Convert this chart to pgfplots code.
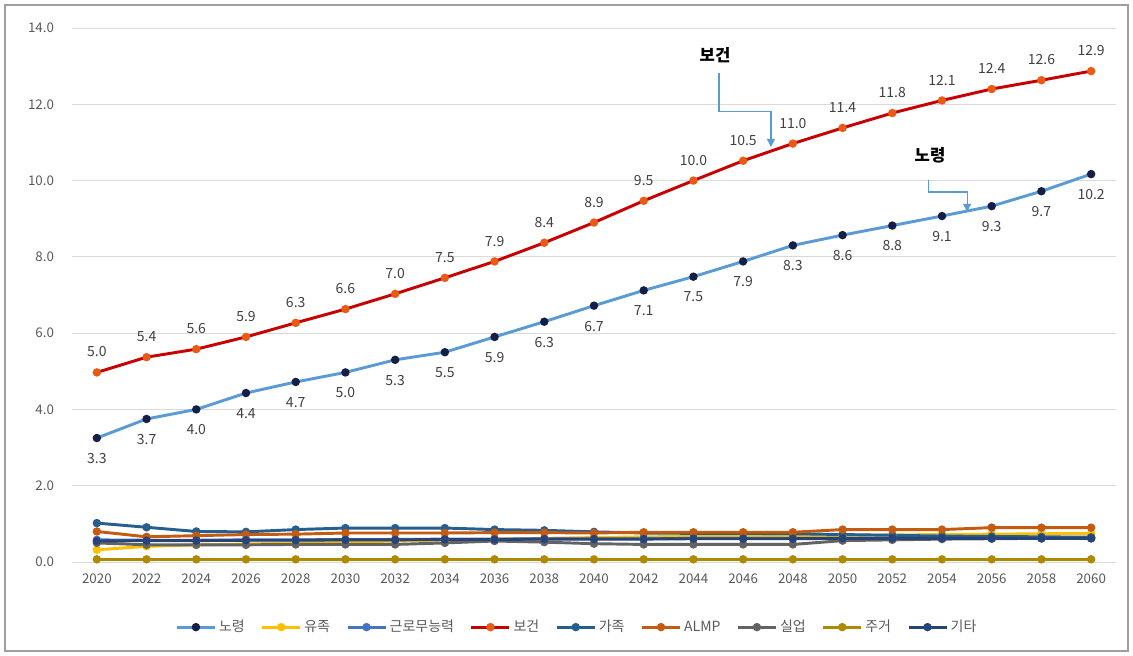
\documentclass[border=0pt]{standalone}
\usepackage{fontspec}
\setmainfont{Noto Sans CJK KR}
\usepackage{pgfplots}
\usepackage{pgfplotstable}
\pgfplotsset{compat=1.18}
\usetikzlibrary{arrows.meta}

\definecolor{cNoryeong}{RGB}{91,155,213}
\definecolor{cNoryeongM}{RGB}{20,30,70}
\definecolor{cYujok}{RGB}{255,192,0}
\definecolor{cGeunro}{RGB}{68,114,196}
\definecolor{cBogeon}{RGB}{200,0,0}
\definecolor{cBogeonM}{RGB}{235,90,20}
\definecolor{cGajok}{RGB}{37,94,145}
\definecolor{cALMP}{RGB}{197,90,17}
\definecolor{cSileop}{RGB}{99,99,99}
\definecolor{cJugeo}{RGB}{175,138,0}
\definecolor{cGita}{RGB}{38,68,120}
\definecolor{cText}{RGB}{64,64,64}
\definecolor{cTick}{RGB}{89,89,89}

\pgfplotstableread{
year noryeong nlab yujok geunro bogeon blab gajok almp sileop jugeo gita
2020 3.25 3.3 0.32 0.58 4.97 5.0 1.02 0.80 0.50 0.07 0.55
2022 3.75 3.7 0.41 0.57 5.37 5.4 0.91 0.66 0.45 0.07 0.56
2024 4.00 4.0 0.45 0.57 5.58 5.6 0.80 0.69 0.45 0.07 0.56
2026 4.43 4.4 0.47 0.58 5.90 5.9 0.79 0.72 0.45 0.07 0.57
2028 4.72 4.7 0.50 0.58 6.27 6.3 0.85 0.73 0.46 0.07 0.57
2030 4.97 5.0 0.52 0.59 6.63 6.6 0.89 0.76 0.46 0.07 0.58
2032 5.30 5.3 0.55 0.59 7.03 7.0 0.89 0.76 0.46 0.07 0.58
2034 5.50 5.5 0.58 0.60 7.45 7.5 0.89 0.76 0.50 0.07 0.59
2036 5.90 5.9 0.60 0.60 7.88 7.9 0.85 0.77 0.55 0.07 0.59
2038 6.30 6.3 0.62 0.61 8.37 8.4 0.83 0.77 0.52 0.07 0.60
2040 6.72 6.7 0.64 0.61 8.90 8.9 0.79 0.76 0.48 0.07 0.60
2042 7.12 7.1 0.66 0.61 9.47 9.5 0.76 0.78 0.46 0.07 0.60
2044 7.48 7.5 0.67 0.62 10.00 10.0 0.75 0.78 0.46 0.07 0.61
2046 7.88 7.9 0.68 0.62 10.52 10.5 0.75 0.78 0.46 0.07 0.61
2048 8.30 8.3 0.69 0.62 10.97 11.0 0.74 0.78 0.46 0.07 0.61
2050 8.57 8.6 0.70 0.62 11.38 11.4 0.72 0.85 0.56 0.07 0.62
2052 8.82 8.8 0.71 0.62 11.77 11.8 0.70 0.85 0.58 0.07 0.62
2054 9.07 9.1 0.72 0.62 12.10 12.1 0.68 0.85 0.60 0.07 0.62
2056 9.33 9.3 0.73 0.62 12.40 12.4 0.67 0.90 0.61 0.07 0.62
2058 9.72 9.7 0.74 0.62 12.63 12.6 0.66 0.90 0.62 0.07 0.62
2060 10.17 10.2 0.75 0.62 12.87 12.9 0.65 0.90 0.63 0.07 0.62
}\datatable

\begin{document}
\begin{tikzpicture}
\useasboundingbox (0,0) rectangle (849.75pt,492pt);
\draw[color=gray!75, line width=1.2pt] (3.75pt,3.75pt) rectangle (846pt,488.25pt);
\begin{axis}[
  at={(54pt,70.5pt)}, anchor=south west,
  scale only axis, width=783pt, height=400.5pt,
  xmin=2019, xmax=2061, ymin=0, ymax=14,
  xtick={2020,2022,...,2060}, ytick={0,2,...,14},
  ymajorgrids, grid style={color=gray!30, line width=0.6pt},
  axis line style={draw=none},
  major tick length=0pt,
  /pgf/number format/assume math mode=true,
  xticklabel style={/pgf/number format/1000 sep={}, font=\fontsize{10}{12}\selectfont, text=cTick, yshift=-5pt},
  yticklabel style={/pgf/number format/fixed, /pgf/number format/zerofill, /pgf/number format/precision=1, font=\fontsize{10}{12}\selectfont, text=cTick, xshift=-10pt},
  legend columns=9,
  legend style={draw=none, fill=none, at={(0.484,-0.122)}, anchor=center, font=\fontsize{10.5}{12}\selectfont, text=cTick,
    /tikz/every even column/.append style={column sep=10pt}},
  legend image code/.code={\draw[mark repeat=2,mark phase=2] plot coordinates {(0cm,0cm) (0.5cm,0cm) (1cm,0cm)};},
  every axis plot/.append style={line width=2.2pt, mark=*, mark size=2pt},
  nodes near coords style={font=\fontsize{10.5}{12}\selectfont, text=cText, /pgf/number format/fixed, /pgf/number format/zerofill, /pgf/number format/precision=1},
]
\addplot[color=cNoryeong, mark options={fill=cNoryeongM, draw=cNoryeongM},
  point meta=explicit, nodes near coords, nodes near coords style={anchor=north, yshift=-7pt}] table[x=year, y=noryeong, meta=nlab] {\datatable};
\addlegendentry{노령}
\addplot[color=cYujok, mark options={fill=cYujok}] table[x=year, y=yujok] {\datatable};
\addlegendentry{유족}
\addplot[color=cGeunro, mark options={fill=cGeunro}] table[x=year, y=geunro] {\datatable};
\addlegendentry{근로무능력}
\addplot[color=cBogeon, mark options={fill=cBogeonM, draw=cBogeonM},
  point meta=explicit, nodes near coords, nodes near coords style={anchor=south, yshift=7pt}] table[x=year, y=bogeon, meta=blab] {\datatable};
\addlegendentry{보건}
\addplot[color=cGajok, mark options={fill=cGajok}] table[x=year, y=gajok] {\datatable};
\addlegendentry{가족}
\addplot[color=cALMP, mark options={fill=cALMP}] table[x=year, y=almp] {\datatable};
\addlegendentry{ALMP}
\addplot[color=cSileop, mark options={fill=cSileop}] table[x=year, y=sileop] {\datatable};
\addlegendentry{실업}
\addplot[color=cJugeo, mark options={fill=cJugeo}] table[x=year, y=jugeo] {\datatable};
\addlegendentry{주거}
\addplot[color=cGita, mark options={fill=cGita}] table[x=year, y=gita] {\datatable};
\addlegendentry{기타}

\node[font=\bfseries\fontsize{12.5}{14}\selectfont, text=black] at (axis cs:2044.87,13.29) {보건};
\draw[cNoryeong, line width=0.8pt, -{Triangle[length=6pt,width=6pt]}] (axis cs:2045.03,12.82) -- (axis cs:2045.03,11.80) -- (axis cs:2047.12,11.80) -- (axis cs:2047.12,10.88);
\node[font=\bfseries\fontsize{12.5}{14}\selectfont, text=black] at (axis cs:2053.52,10.67) {노령};
\draw[cNoryeong, line width=0.8pt, -{Triangle[length=6pt,width=6pt]}] (axis cs:2053.44,10.02) -- (axis cs:2053.44,9.70) -- (axis cs:2055.01,9.70) -- (axis cs:2055.01,9.18);
\end{axis}
\end{tikzpicture}
\end{document}
